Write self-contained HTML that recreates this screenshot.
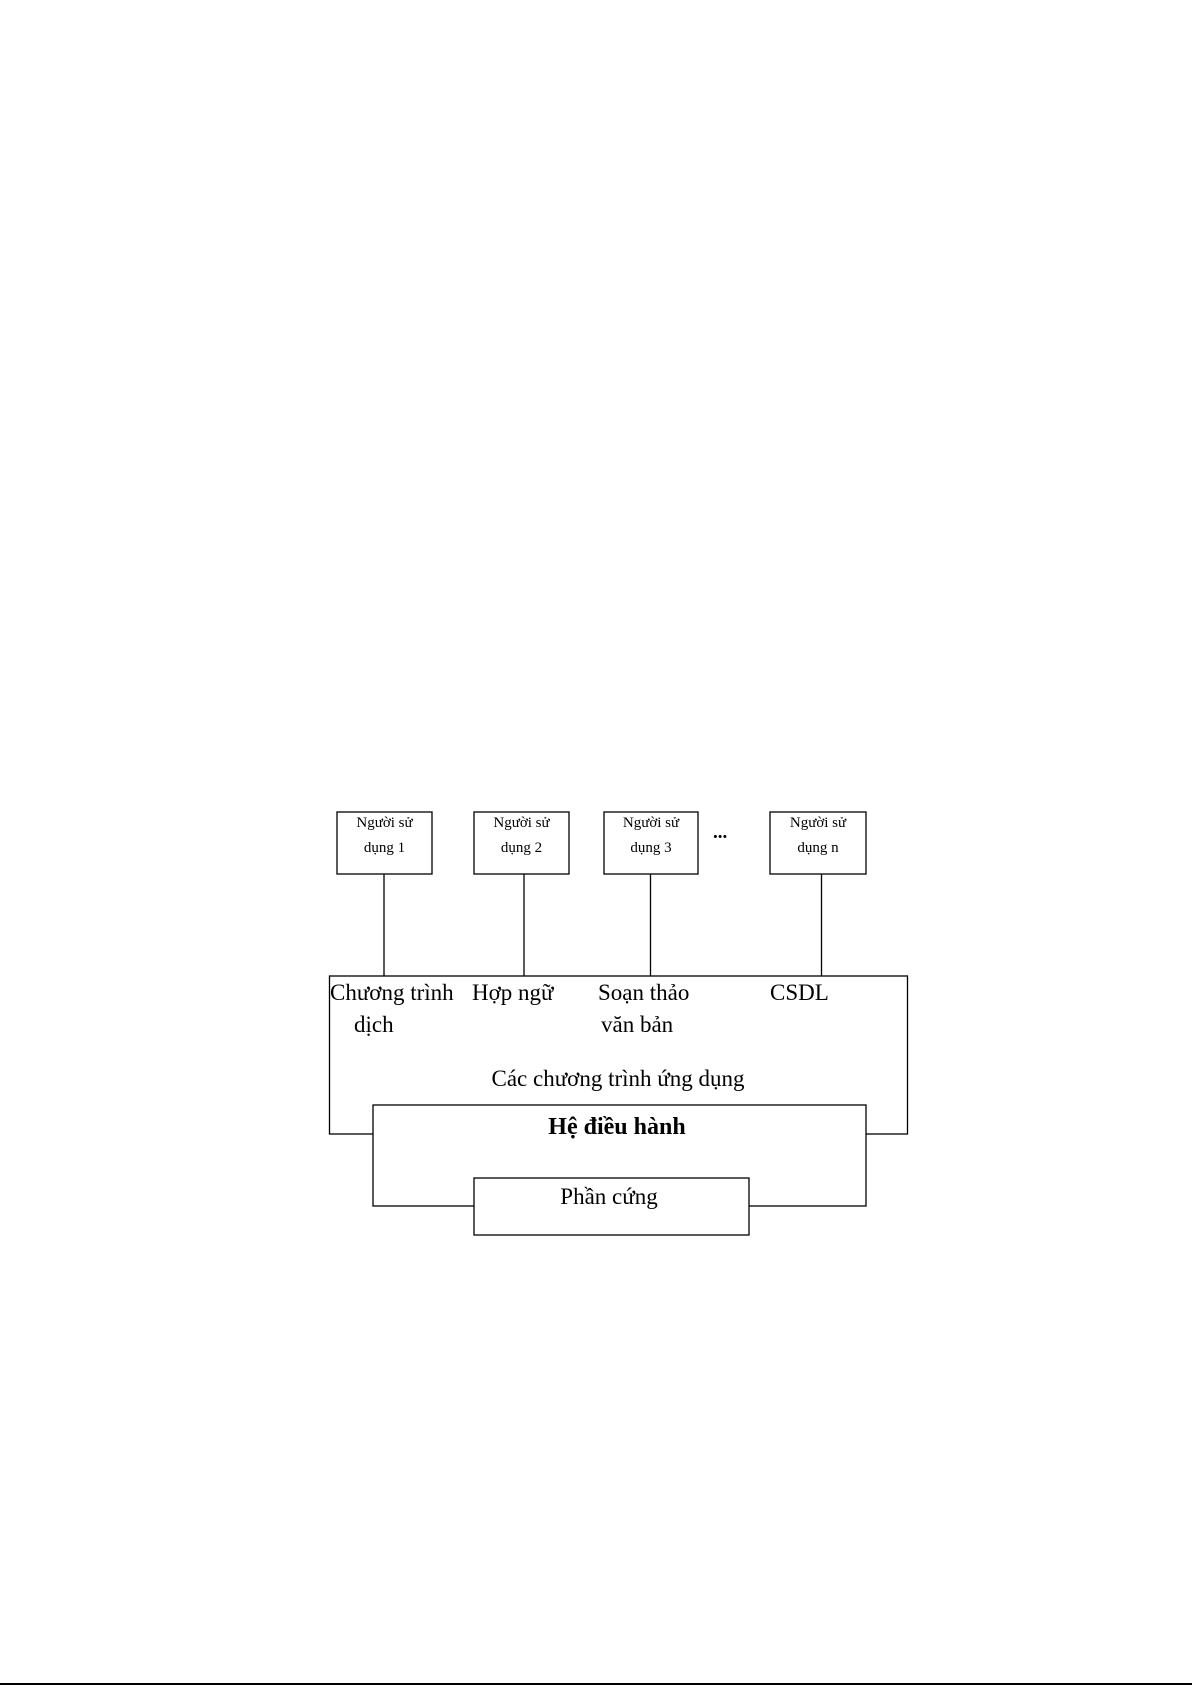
<!DOCTYPE html>
<html><head><meta charset="utf-8"><style>html,body{margin:0;padding:0;background:#fff}svg{display:block}</style></head>
<body>
<svg width="1192" height="1685" viewBox="0 0 1192 1685" xmlns="http://www.w3.org/2000/svg" font-family="Liberation Serif, serif">
<g fill="none" stroke="#000" stroke-width="1.3">
<rect x="337" y="812" width="95" height="62"/>
<rect x="474" y="812" width="95" height="62"/>
<rect x="604" y="812" width="94" height="62"/>
<rect x="770" y="812" width="96" height="62"/>
<line x1="384" y1="874" x2="384" y2="976"/>
<line x1="524" y1="874" x2="524" y2="976"/>
<line x1="650.5" y1="874" x2="650.5" y2="976"/>
<line x1="821.5" y1="874" x2="821.5" y2="976"/>
<rect x="329.5" y="976" width="578" height="158"/>
<rect x="373" y="1105" width="493" height="101" fill="#fff"/>
<rect x="474" y="1178" width="275" height="57" fill="#fff"/>
</g>
<g font-size="15" text-anchor="middle">
<text x="384.5" y="827">Người sử</text><text x="384.5" y="852">dụng 1</text>
<text x="521.5" y="827">Người sử</text><text x="521.5" y="852">dụng 2</text>
<text x="651" y="827">Người sử</text><text x="651" y="852">dụng 3</text>
<text x="818" y="827">Người sử</text><text x="818" y="852">dụng n</text>
</g>
<text x="713" y="838" font-size="19" font-weight="bold">...</text>
<g font-size="23">
<text x="330" y="1000">Chương trình</text>
<text x="354" y="1032">dịch</text>
<text x="472" y="1000">Hợp ngữ</text>
<text x="598" y="1000">Soạn thảo</text>
<text x="601" y="1032">văn bản</text>
<text x="770" y="1000">CSDL</text>
<text x="618" y="1086" text-anchor="middle">Các chương trình ứng dụng</text>
<text x="617" y="1134" text-anchor="middle" font-weight="bold" font-size="24">Hệ điều hành</text>
<text x="609" y="1204" text-anchor="middle">Phần cứng</text>
</g>
<rect x="0" y="1683" width="1192" height="2" fill="#000"/>
</svg>
</body></html>
